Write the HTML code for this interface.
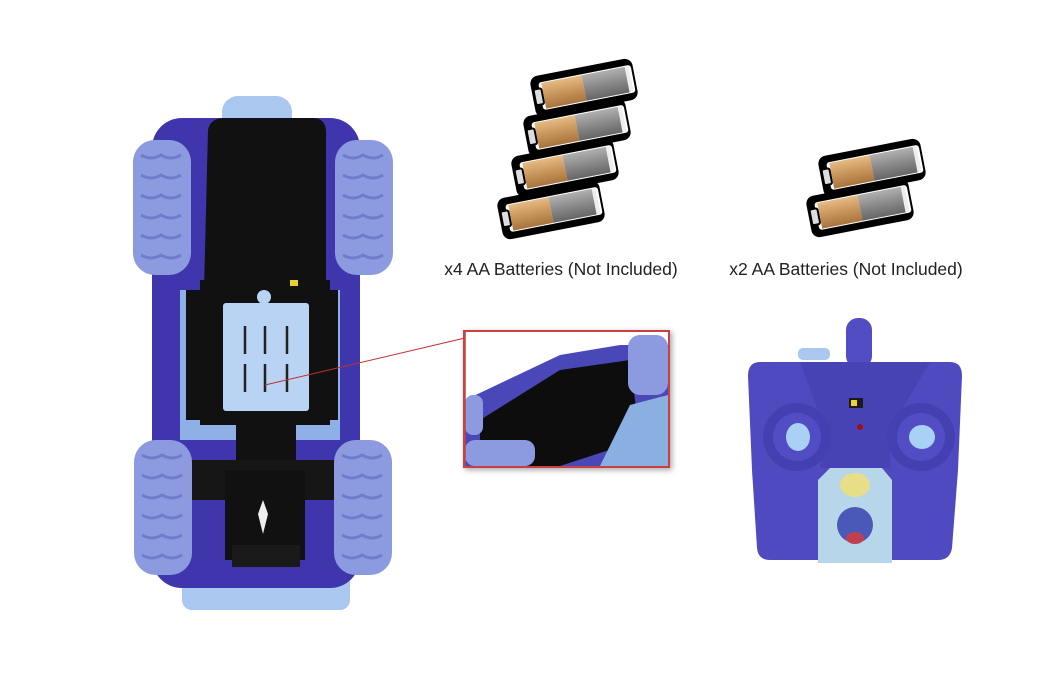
<!DOCTYPE html>
<html><head><meta charset="utf-8"><style>
html,body{margin:0;padding:0;background:#fff;width:1050px;height:700px;overflow:hidden}
svg{display:block}
text{font-family:"Liberation Sans",sans-serif}
</style></head><body>
<svg width="1050" height="700" viewBox="0 0 1050 700" xmlns="http://www.w3.org/2000/svg">
<defs>
<linearGradient id="cu" x1="0" y1="0" x2="0" y2="1"><stop offset="0" stop-color="#e6bb84"/><stop offset=".5" stop-color="#c8955a"/><stop offset="1" stop-color="#a8743e"/></linearGradient>
<linearGradient id="gr" x1="0" y1="0" x2="0" y2="1"><stop offset="0" stop-color="#b0b0b0"/><stop offset=".5" stop-color="#8a8a8a"/><stop offset="1" stop-color="#666"/></linearGradient>
<g id="bat">
<rect x="-52" y="-21" width="104" height="42" rx="8" fill="#000"/>
<rect x="-44" y="-14" width="94" height="28" rx="3" fill="#fff"/>
<rect x="-50" y="-8" width="8" height="16" rx="2" fill="#ddd" stroke="#000" stroke-width="2"/>
<rect x="-41" y="-13" width="41" height="26" fill="url(#cu)"/>
<rect x="0" y="-13" width="44" height="26" fill="url(#gr)"/>
<rect x="44" y="-13" width="4" height="26" fill="#eee"/>
</g>
<g id="tire">
<rect x="0" y="0" width="58" height="135" rx="22" fill="#8c9ae0"/>
<path d="M8 15 q10 6 20 0 q10 6 20 0 M8 35 q10 6 20 0 q10 6 20 0 M8 55 q10 6 20 0 q10 6 20 0 M8 75 q10 6 20 0 q10 6 20 0 M8 95 q10 6 20 0 q10 6 20 0 M8 115 q10 6 20 0 q10 6 20 0" stroke="#6f7ccc" stroke-width="3" fill="none"/>
</g>
<filter id="sh"><feDropShadow dx="2" dy="2" stdDeviation="3" flood-opacity=".35"/></filter>
</defs>

<!-- car -->
<rect x="222" y="96" width="70" height="40" rx="16" fill="#a9c7ef"/>
<rect x="182" y="555" width="168" height="55" rx="10" fill="#a9c7ef"/>
<rect x="152" y="118" width="208" height="470" rx="30" fill="#3f36ad"/>
<rect x="180" y="290" width="160" height="150" fill="#8fb0e6"/>
<rect x="152" y="290" width="22" height="150" fill="#3f36ad"/>
<rect x="346" y="290" width="14" height="150" fill="#3f36ad"/>
<path d="M208 130 Q210 118 225 118 L312 118 Q326 118 326 132 L326 290 L338 290 L338 420 L186 420 L186 290 L204 290 Z" fill="#111"/>
<rect x="200" y="280" width="130" height="145" fill="#111"/>
<rect x="236" y="410" width="60" height="60" fill="#111"/>
<rect x="186" y="460" width="155" height="40" fill="#161616"/>
<rect x="225" y="470" width="80" height="90" fill="#111"/>
<rect x="232" y="545" width="68" height="22" fill="#1a1a1a"/>
<rect x="223" y="303" width="86" height="108" rx="3" fill="#b8d3f3"/>
<circle cx="264" cy="297" r="7" fill="#b8d3f3"/>
<path d="M245 326v28M265 326v28M287 326v28M245 364v28M265 364v28M287 364v28" stroke="#222" stroke-width="2.5"/>
<path d="M263 500 l5 14 l-5 20 l-5-20z" fill="#eee"/>
<rect x="290" y="280" width="8" height="6" fill="#e8d030"/>
<use href="#tire" x="133" y="140"/>
<use href="#tire" x="335" y="140"/>
<use href="#tire" x="134" y="440"/>
<use href="#tire" x="334" y="440"/>

<!-- connector -->
<line x1="265" y1="385" x2="465" y2="338" stroke="#c03030" stroke-width="1"/>

<!-- inset -->
<g filter="url(#sh)">
<rect x="464" y="331" width="205" height="136" fill="#fff" stroke="#c94040" stroke-width="2"/>
</g>
<rect x="465" y="332" width="203" height="134" fill="#fff"/>
<path d="M465 400 L560 355 L620 345 L668 345 L668 466 L465 466 Z" fill="#4a48b8"/>
<path d="M480 420 L560 370 L630 360 L640 440 L560 466 L480 466 Z" fill="#0d0d0d"/>
<rect x="628" y="335" width="40" height="60" rx="12" fill="#8c9ae0"/>
<rect x="465" y="440" width="70" height="26" rx="10" fill="#8c9ae0"/>
<rect x="465" y="395" width="18" height="40" rx="8" fill="#8c9ae0"/>
<path d="M630 405 L668 395 L668 466 L600 466 Z" fill="#8ab0e2"/>
<rect x="465" y="331" width="204" height="136" fill="none" stroke="#c94040" stroke-width="1.5"/>

<!-- batteries -->
<use href="#bat" transform="translate(584,88) rotate(-11)"/>
<use href="#bat" transform="translate(577,128) rotate(-11)"/>
<use href="#bat" transform="translate(565,168) rotate(-11)"/>
<use href="#bat" transform="translate(551,210) rotate(-11)"/>
<use href="#bat" transform="translate(872,168) rotate(-11)"/>
<use href="#bat" transform="translate(860,208) rotate(-11)"/>

<text x="561" y="275" font-size="17.5" text-anchor="middle" fill="#222">x4 AA Batteries (Not Included)</text>
<text x="846" y="275" font-size="17.5" text-anchor="middle" fill="#222">x2 AA Batteries (Not Included)</text>

<!-- remote -->
<rect x="846" y="318" width="26" height="50" rx="12" fill="#524dc2"/>
<rect x="798" y="348" width="32" height="12" rx="5" fill="#a9c7ef"/>
<path d="M760 362 L950 362 Q962 362 962 376 L958 470 L952 548 Q950 560 938 560 L770 560 Q758 560 757 548 L752 470 L748 376 Q748 362 760 362Z" fill="#4f4ac0"/>
<path d="M800 362 L930 362 L890 430 L890 468 L820 468 L825 430 Z" fill="#4843b5"/>
<circle cx="797" cy="437" r="34" fill="#4540b2"/>
<circle cx="797" cy="437" r="24" fill="#524dc4"/>
<ellipse cx="798" cy="437" rx="12" ry="14" fill="#a9d0f5"/>
<circle cx="921" cy="437" r="34" fill="#4540b2"/>
<circle cx="921" cy="437" r="24" fill="#524dc4"/>
<ellipse cx="922" cy="437" rx="13" ry="12" fill="#a9d0f5"/>
<rect x="849" y="398" width="14" height="10" fill="#1a1a1a"/>
<rect x="851" y="400" width="6" height="6" fill="#f0d030"/>
<circle cx="860" cy="427" r="3" fill="#a01010"/>
<path d="M830 468 L882 468 L892 480 L892 563 L818 563 L818 480Z" fill="#b8d6ea"/>
<ellipse cx="855" cy="485" rx="15" ry="12" fill="#e8de88"/>
<circle cx="855" cy="525" r="18" fill="#4a58b8"/>
<ellipse cx="855" cy="538" rx="9" ry="6" fill="#c04050"/>
</svg>
</body></html>
